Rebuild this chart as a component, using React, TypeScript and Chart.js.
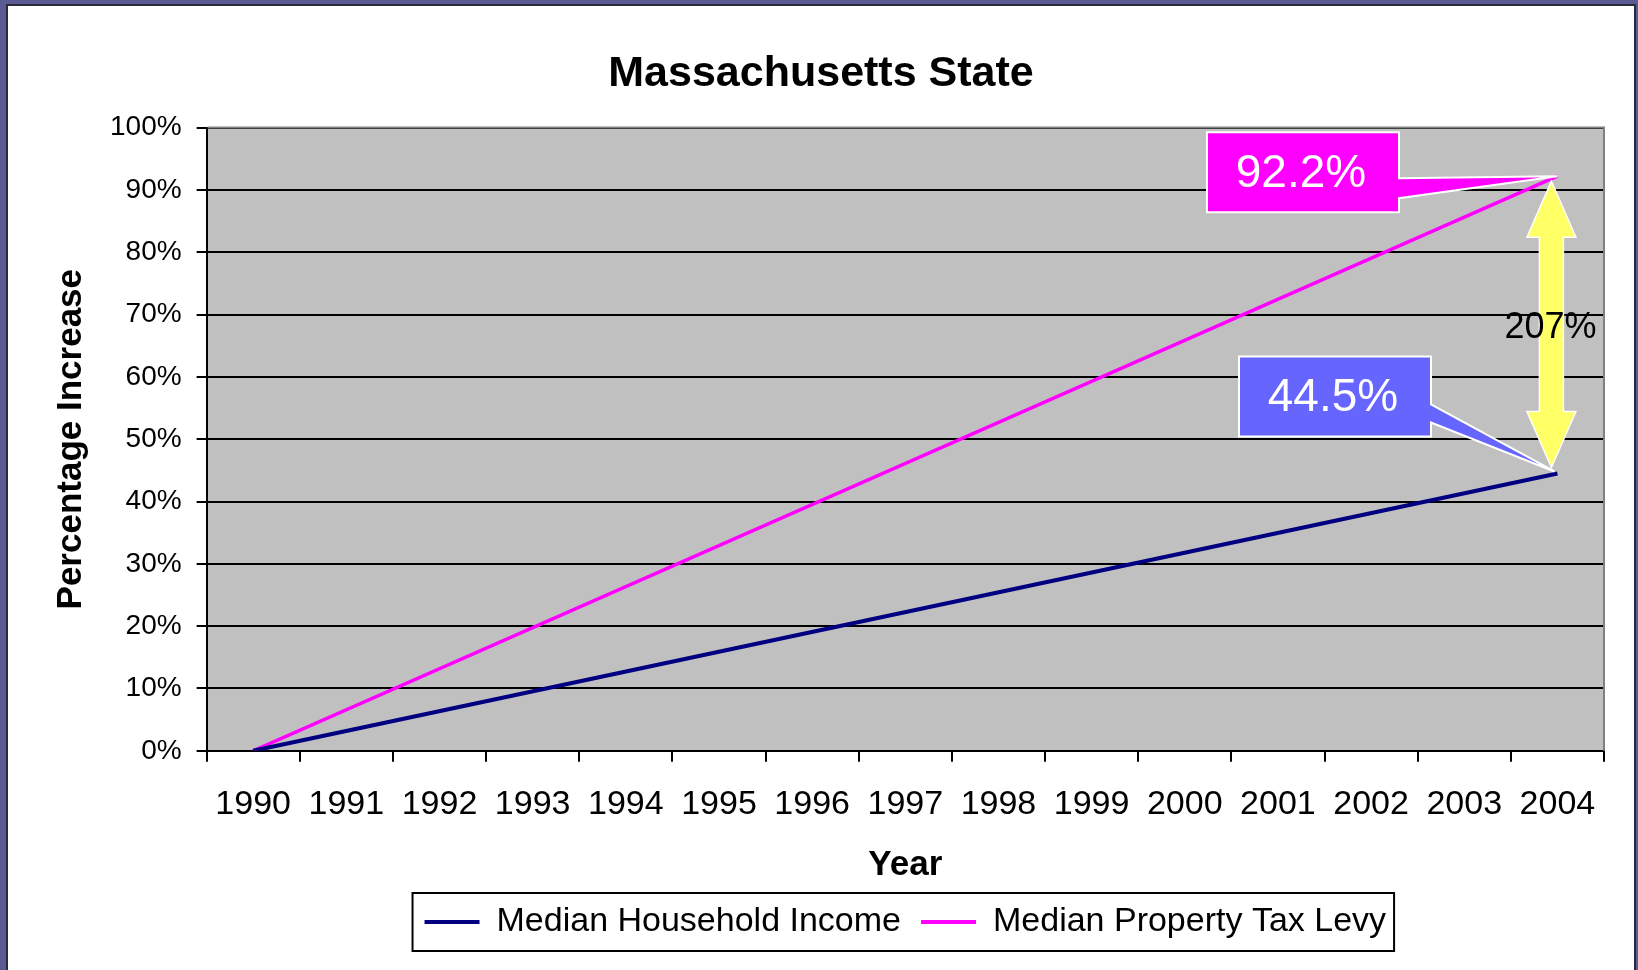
import React, { useEffect, useRef } from 'react';
import { Chart, registerables } from 'chart.js';

Chart.register(...registerables);

const FONT = "'Liberation Sans', Arial, Helvetica, sans-serif";

const chartTitle = 'Massachusetts State';
const xAxisTitle = 'Year';
const yAxisTitle = 'Percentage Increase';

const years = ['1990', '1991', '1992', '1993', '1994', '1995', '1996', '1997', '1998', '1999', '2000', '2001', '2002', '2003', '2004'];
// Only the start and end values are known; the chart draws a straight line between them.
const householdIncome: (number | null)[] = [0, null, null, null, null, null, null, null, null, null, null, null, null, null, 44.5];
const propertyTaxLevy: (number | null)[] = [0, null, null, null, null, null, null, null, null, null, null, null, null, null, 92.2];

const seriesNames = ['Median Household Income', 'Median Property Tax Levy'];
const seriesColors = ['#000080', '#ff00ff'];

const yMin = 0;
const yMax = 100;
const yStep = 10;

function drawCallout(
  ctx: CanvasRenderingContext2D,
  o: { left: number; right: number; top: number; bottom: number; baseTop: number; baseBot: number; tipX: number; tipY: number; fill: string; text: string }
) {
  ctx.save();
  ctx.beginPath();
  ctx.moveTo(o.left, o.top);
  ctx.lineTo(o.right, o.top);
  ctx.lineTo(o.right, o.baseTop);
  ctx.lineTo(o.tipX, o.tipY);
  ctx.lineTo(o.right, o.baseBot);
  ctx.lineTo(o.right, o.bottom);
  ctx.lineTo(o.left, o.bottom);
  ctx.closePath();
  ctx.fillStyle = o.fill;
  ctx.fill();
  ctx.lineWidth = 2;
  ctx.strokeStyle = '#ffffff';
  ctx.lineJoin = 'miter';
  ctx.stroke();
  ctx.fillStyle = '#ffffff';
  ctx.font = `46px ${FONT}`;
  ctx.textAlign = 'center';
  ctx.textBaseline = 'middle';
  ctx.fillText(o.text, (o.left + o.right) / 2 - 2, (o.top + o.bottom) / 2 + 2);
  ctx.restore();
}

const backgroundPlugin = {
  id: 'panelBackground',
  beforeDraw(chart: any) {
    const { ctx, width, height, chartArea } = chart;
    ctx.save();
    ctx.fillStyle = '#5b5b93';
    ctx.fillRect(0, 0, width, height);
    ctx.fillStyle = '#ffffff';
    ctx.fillRect(8, 6, 1626, height - 6);
    ctx.strokeStyle = '#2a2a3a';
    ctx.lineWidth = 2;
    ctx.beginPath();
    ctx.moveTo(7, height);
    ctx.lineTo(7, 5);
    ctx.lineTo(1635, 5);
    ctx.lineTo(1635, height);
    ctx.stroke();
    ctx.fillStyle = '#c0c0c0';
    ctx.fillRect(chartArea.left, chartArea.top, chartArea.right - chartArea.left, chartArea.bottom - chartArea.top);
    ctx.restore();
  },
  beforeDatasetsDraw(chart: any) {
    const { ctx, chartArea } = chart;
    ctx.save();
    ctx.strokeStyle = '#808080';
    ctx.lineWidth = 2;
    ctx.beginPath();
    ctx.moveTo(chartArea.left + 1, chartArea.top);
    ctx.lineTo(chartArea.right, chartArea.top);
    ctx.lineTo(chartArea.right, chartArea.bottom);
    ctx.stroke();
    ctx.restore();
  },
  afterDraw(chart: any) {
    const legend = chart.legend;
    if (!legend || !legend.legendHitBoxes || !legend.legendHitBoxes.length) return;
    const hb = legend.legendHitBoxes;
    const first = hb[0];
    const last = hb[hb.length - 1];
    const { ctx } = chart;
    ctx.save();
    ctx.strokeStyle = '#000000';
    ctx.lineWidth = 2;
    const l = first.left - 12;
    const r = last.left + last.width + 8;
    const t = first.top - 12;
    const b = first.top + first.height + 12;
    ctx.strokeRect(l, t, r - l, b - t);
    ctx.restore();
  },
};

const annotationPlugin = {
  id: 'endAnnotations',
  afterDatasetsDraw(chart: any) {
    const { ctx, chartArea } = chart;
    const x = chart.scales.x;
    const y = chart.scales.y;
    const last = years.length - 1;
    const taxEnd = propertyTaxLevy[last] as number;
    const incEnd = householdIncome[last] as number;
    const px = x.getPixelForValue(last);
    const pyTax = y.getPixelForValue(taxEnd);
    const pyInc = y.getPixelForValue(incEnd);

    // yellow double arrow
    const ax = px - 6;
    const top = pyTax + 5;
    const bot = pyInc - 6;
    const hl = 56;
    const hw = 24.5;
    const sw = 12;
    ctx.save();
    ctx.beginPath();
    ctx.moveTo(ax, top);
    ctx.lineTo(ax + hw, top + hl);
    ctx.lineTo(ax + sw, top + hl);
    ctx.lineTo(ax + sw, bot - hl);
    ctx.lineTo(ax + hw, bot - hl);
    ctx.lineTo(ax, bot);
    ctx.lineTo(ax - hw, bot - hl);
    ctx.lineTo(ax - sw, bot - hl);
    ctx.lineTo(ax - sw, top + hl);
    ctx.lineTo(ax - hw, top + hl);
    ctx.closePath();
    ctx.fillStyle = '#ffff66';
    ctx.fill();
    ctx.strokeStyle = '#ffffff';
    ctx.lineWidth = 1.5;
    ctx.stroke();
    ctx.restore();

    drawCallout(ctx, {
      left: chartArea.right - 397,
      right: chartArea.right - 205,
      top: pyTax - 44,
      bottom: pyTax + 36,
      baseTop: pyTax + 2,
      baseBot: pyTax + 22,
      tipX: px,
      tipY: pyTax,
      fill: seriesColors[1],
      text: taxEnd.toFixed(1) + '%',
    });
    drawCallout(ctx, {
      left: chartArea.right - 365,
      right: chartArea.right - 173,
      top: pyInc - 117,
      bottom: pyInc - 37,
      baseTop: pyInc - 69,
      baseBot: pyInc - 51,
      tipX: px - 3,
      tipY: pyInc - 2,
      fill: '#6666ff',
      text: incEnd.toFixed(1) + '%',
    });

    const ratio = Math.round((taxEnd / incEnd) * 100);
    ctx.save();
    ctx.fillStyle = '#000000';
    ctx.font = `36px ${FONT}`;
    ctx.textAlign = 'center';
    ctx.textBaseline = 'middle';
    ctx.fillText(ratio + '%', ax - 1, (pyTax + pyInc) / 2 + 3);
    ctx.restore();
  },
};

export default function App() {
  const ref = useRef<HTMLCanvasElement>(null);

  useEffect(() => {
    if (!ref.current) return;
    Chart.defaults.font.family = FONT;
    Chart.defaults.color = '#000000';
    const defaultGen = Chart.defaults.plugins.legend.labels.generateLabels;
    const chart = new Chart(ref.current, {
      type: 'line',
      data: {
        labels: years,
        datasets: [
          {
            label: seriesNames[0],
            data: householdIncome,
            borderColor: seriesColors[0],
            backgroundColor: seriesColors[0],
            borderWidth: 4,
            pointRadius: 0,
            spanGaps: true,
            tension: 0,
          },
          {
            label: seriesNames[1],
            data: propertyTaxLevy,
            borderColor: seriesColors[1],
            backgroundColor: seriesColors[1],
            borderWidth: 3.5,
            pointRadius: 0,
            spanGaps: true,
            tension: 0,
          },
        ],
      },
      options: {
        animation: false,
        responsive: false,
        devicePixelRatio: 1,
        layout: { padding: { left: 12, right: 8, top: 6, bottom: 21 } },
        plugins: {
          title: {
            display: true,
            text: chartTitle,
            color: '#000000',
            font: { size: 43, weight: 'bold', family: FONT },
            padding: { top: 42, bottom: 28 },
          },
          legend: {
            display: true,
            position: 'bottom',
            fullSize: false,
            labels: {
              color: '#000000',
              font: { size: 34, family: FONT },
              boxWidth: 55,
              boxHeight: 4,
              padding: 20,
              generateLabels: (c: any) =>
                defaultGen(c).map((l: any) => ({ ...l, fillStyle: l.strokeStyle, lineWidth: 0 })),
            },
          },
          tooltip: { enabled: false },
        },
        scales: {
          x: {
            type: 'category',
            offset: true,
            grid: {
              display: true,
              drawOnChartArea: false,
              drawTicks: true,
              tickLength: 11,
              color: '#000000',
              lineWidth: 2,
              offset: true,
            },
            border: { display: true, color: '#000000', width: 2 },
            ticks: {
              color: '#000000',
              font: { size: 34, family: FONT, lineHeight: 1.3 },
              padding: 21,
              maxRotation: 0,
              autoSkip: false,
            },
            title: {
              display: true,
              text: xAxisTitle,
              color: '#000000',
              font: { size: 35, weight: 'bold', family: FONT, lineHeight: 1.0 },
              padding: { top: 0, bottom: 2 },
            },
          },
          y: {
            type: 'linear',
            position: 'left',
            min: yMin,
            max: yMax,
            grid: {
              display: true,
              drawOnChartArea: true,
              drawTicks: true,
              tickLength: 10,
              color: '#000000',
              lineWidth: 2,
            },
            border: { display: true, color: '#000000', width: 2 },
            ticks: {
              stepSize: yStep,
              color: '#000000',
              font: { size: 28, family: FONT },
              padding: 15,
              callback: (v: any) => v + '%',
            },
            title: {
              display: true,
              text: yAxisTitle,
              color: '#000000',
              font: { size: 35, weight: 'bold', family: FONT },
              padding: { top: 38, bottom: 3 },
            },
          },
          yRightSpacer: {
            type: 'linear',
            position: 'right',
            display: true,
            grid: { display: false, drawTicks: false },
            border: { display: false },
            ticks: { display: false },
            afterFit: (scale: any) => {
              scale.width = 26;
            },
          },
        },
      } as any,
      plugins: [backgroundPlugin, annotationPlugin],
    });
    return () => chart.destroy();
  }, []);

  return (
    <div style={{ position: 'absolute', left: 0, top: 0, width: 1638, height: 970, overflow: 'hidden' }}>
      <canvas ref={ref} width={1638} height={970} style={{ display: 'block', width: 1638, height: 970 }} />
    </div>
  );
}
